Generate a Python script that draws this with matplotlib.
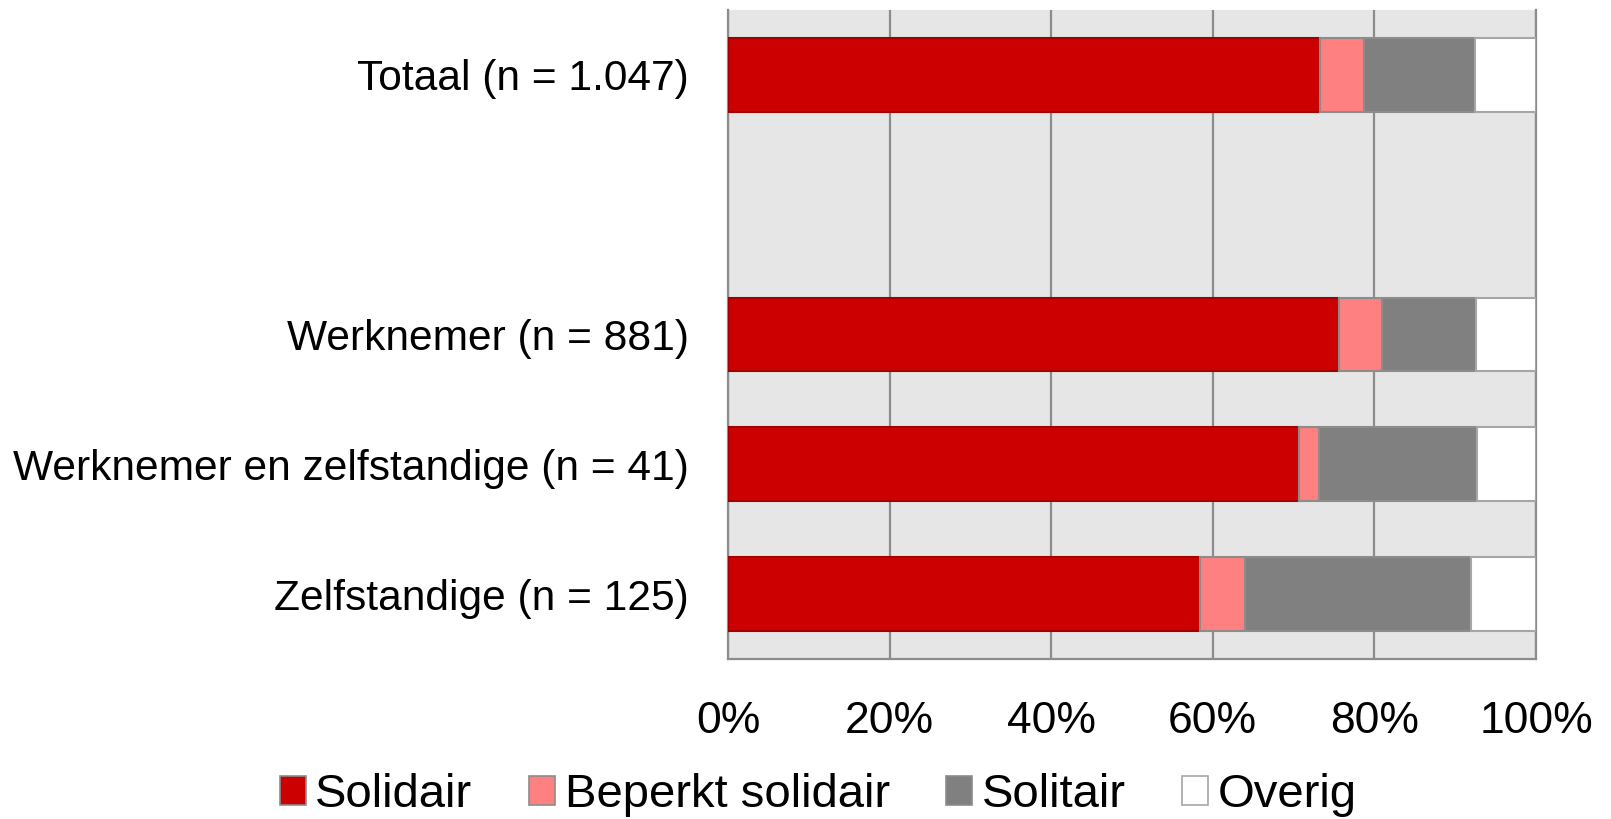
import matplotlib
matplotlib.use("Agg")
import matplotlib.pyplot as plt
from matplotlib.patches import Patch
import numpy as np

plt.rcParams['font.family'] = ['Liberation Sans', 'DejaVu Sans']

categories = ["Totaal (n = 1.047)", "", "Werknemer (n = 881)",
              "Werknemer en zelfstandige (n = 41)", "Zelfstandige (n = 125)"]
solidair = [73.3, 0, 75.6, 70.7, 58.4]
beperkt = [5.4, 0, 5.4, 2.4, 5.6]
solitair = [13.8, 0, 11.6, 19.6, 28.0]
overig = [7.5, 0, 7.4, 7.3, 8.0]
series_names = ["Solidair", "Beperkt solidair", "Solitair", "Overig"]
xticks = [0, 20, 40, 60, 80, 100]
xticklabels = ["0%", "20%", "40%", "60%", "80%", "100%"]

colors = ["#cc0000", "#ff8080", "#808080", "#ffffff"]
edges = ["#a00000", "#8c8c8c", "#8c8c8c", "#a6a6a6"]

fig = plt.figure(figsize=(16.11, 8.19), dpi=100)
ax = fig.add_axes([728/1611, 1-659/819, 808/1611, 649/819])
ax.set_facecolor("#e6e6e6")

y = np.arange(len(categories))
left = np.zeros(len(categories))
data = [solidair, beperkt, solitair, overig]
for vals, c, e in zip(data, colors, edges):
    vals = np.array(vals, dtype=float)
    mask = vals > 0
    ax.barh(y[mask], vals[mask], left=left[mask], height=0.57, color=c,
            edgecolor=e, linewidth=1.5, zorder=3)
    left = left + vals

ax.set_xlim(0, 100)
ax.set_ylim(len(categories) - 0.5, -0.5)
ax.set_xticks(xticks)
ax.set_xticklabels(xticklabels, fontsize=32)
ax.set_yticks(y)
ax.set_yticklabels(categories, fontsize=30.6)
ax.tick_params(axis='both', length=0)
ax.tick_params(axis='x', pad=30)
ax.tick_params(axis='y', pad=28)
ax.xaxis.grid(True, color="#8c8c8c", linewidth=1.6, zorder=1)
ax.set_axisbelow(True)
ax.spines["top"].set_visible(False)
for s in ["left", "right", "bottom"]:
    ax.spines[s].set_color("#8c8c8c")
    ax.spines[s].set_linewidth(1.6)

handles = [Patch(facecolor=c, edgecolor=e, linewidth=1.2, label=n)
           for c, e, n in zip(colors, ["#8c8c8c", "#8c8c8c", "#8c8c8c", "#a6a6a6"], series_names)]
fig.legend(handles=handles, loc='center', bbox_to_anchor=(0.508, 0.029), ncol=4,
           frameon=False, fontsize=34, handlelength=0.55, handleheight=0.55,
           handletextpad=0.2, columnspacing=1.2, borderpad=0)

fig.savefig("out.png", dpi=100)
